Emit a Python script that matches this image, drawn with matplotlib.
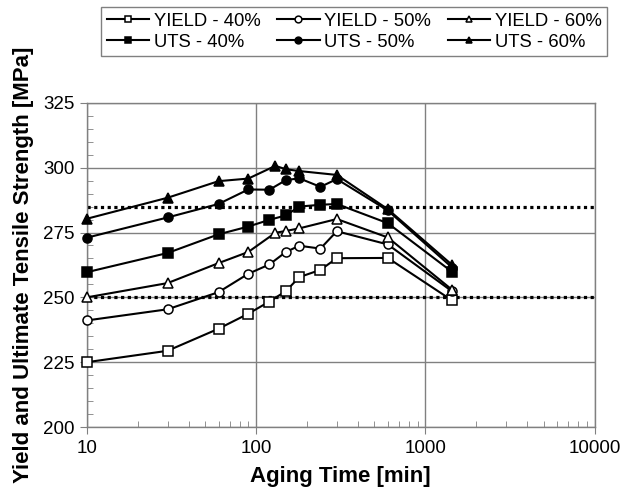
import matplotlib
matplotlib.use("Agg")
import matplotlib.pyplot as plt
import matplotlib.ticker as ticker

plt.rcParams["font.family"] = ["Liberation Sans", "DejaVu Sans"]

# aging times [min]
t_std = [10, 30, 60, 90, 120, 150, 180, 240, 300, 600, 1440]
t_60 = [10, 30, 60, 90, 130, 150, 180, 300, 600, 1440]

yield_40 = [225.0, 229.4, 237.9, 243.7, 248.4, 252.4, 257.8, 260.6, 265.1, 265.2, 248.8]
yield_50 = [241.1, 245.4, 252.0, 259.1, 262.7, 267.5, 269.9, 268.8, 275.5, 270.4, 252.3]
yield_60 = [250.0, 255.5, 263.2, 267.5, 274.9, 275.6, 276.6, 280.2, 273.1, 252.9]
uts_40 = [259.7, 267.1, 274.3, 277.3, 279.9, 281.6, 285.0, 285.7, 286.0, 278.6, 259.8]
uts_50 = [273.0, 280.8, 286.0, 291.6, 291.5, 295.2, 295.9, 292.6, 295.6, 283.5, 261.5]
uts_60 = [280.3, 288.4, 294.8, 295.8, 300.7, 299.4, 298.7, 297.2, 284.0, 262.5]

limit_lines = [285, 250]

GRAY = "#808080"

fig = plt.figure(figsize=(6.22, 4.92), dpi=100)
ax = fig.add_axes([0.1395, 0.132, 0.8165, 0.659])

series = [
    ("YIELD - 40%", t_std, yield_40, "s", "white"),
    ("UTS - 40%", t_std, uts_40, "s", "black"),
    ("YIELD - 50%", t_std, yield_50, "o", "white"),
    ("UTS - 50%", t_std, uts_50, "o", "black"),
    ("YIELD - 60%", t_60, yield_60, "^", "white"),
    ("UTS - 60%", t_60, uts_60, "^", "black"),
]

for y in limit_lines:
    ax.axhline(y, color="black", linewidth=2.3, linestyle=(0, (1, 1.1)), zorder=2)

handles = []
for label, xs, ys, mk, fc in series:
    h, = ax.plot(xs, ys, marker=mk, markersize=6.5, markerfacecolor=fc,
                 markeredgecolor="black", markeredgewidth=1.1,
                 color="black", linewidth=1.5, label=label, zorder=3,
                 clip_on=False)
    handles.append(h)

ax.set_xscale("log")
ax.set_xlim(10, 10000)
ax.set_ylim(200, 325)
ax.set_xticks([10, 100, 1000, 10000])
ax.xaxis.set_major_formatter(ticker.FuncFormatter(lambda v, p: f"{int(v)}"))
ax.xaxis.set_minor_locator(ticker.LogLocator(base=10, subs=range(2, 10)))
ax.xaxis.set_minor_formatter(ticker.NullFormatter())
ax.set_yticks([200, 225, 250, 275, 300, 325])
ax.yaxis.set_minor_locator(ticker.MultipleLocator(5))

ax.grid(True, which="major", color=GRAY, linewidth=1.0)
ax.set_axisbelow(True)
for s in ax.spines.values():
    s.set_color(GRAY)
    s.set_linewidth(1.0)

ax.tick_params(which="major", direction="out", length=5, color=GRAY,
               labelsize=13.5, pad=4)
ax.tick_params(which="minor", direction="in", length=4, color=GRAY)

ax.set_xlabel("Aging Time [min]", fontsize=16, fontweight="bold", labelpad=7)
ax.set_ylabel("Yield and Ultimate Tensile Strength [MPa]", fontsize=16,
              fontweight="bold", labelpad=6)

leg = fig.legend(handles=handles, ncol=3, loc="upper left",
                 bbox_to_anchor=(101 / 622, 1 - 7 / 492),
                 fontsize=13.3, frameon=True, fancybox=False, framealpha=1,
                 edgecolor=GRAY, handlelength=2.3, handletextpad=0.25,
                 columnspacing=0.9, labelspacing=0.22, borderpad=0.3,
                 borderaxespad=0, markerscale=0.75)
leg.get_frame().set_linewidth(1.0)

fig.savefig("out.png", dpi=100)
